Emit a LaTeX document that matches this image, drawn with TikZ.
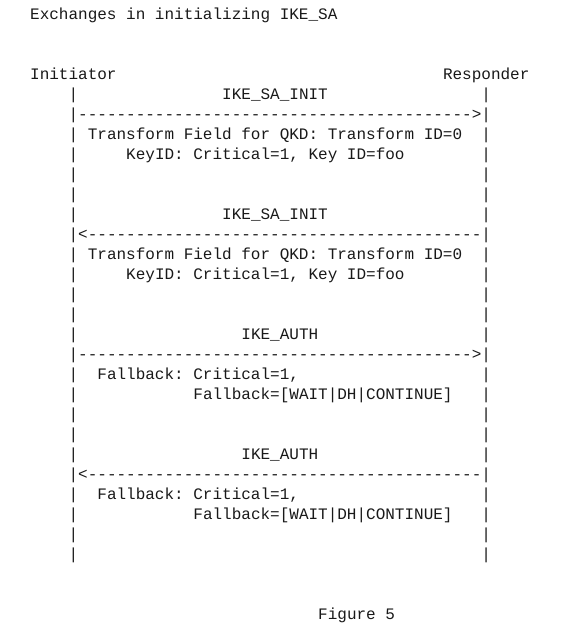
\documentclass[tikz,border=0pt]{standalone}
\usepackage{fontspec}
\newfontfamily\asciifont{Liberation Mono}
\frenchspacing

\begin{document}
\begin{tikzpicture}[x=9.6pt, y=-20pt,
  ascii/.style={font=\asciifont\fontsize{16}{20}\selectfont, anchor=base west, inner sep=0pt, text=black!90}]
  % one unit across is one character, one unit down is one line
  \useasboundingbox (-3.125, -0.975) rectangle (57.7083, 30.675);
  % Title
  \node [ascii] (title) at (0, 0) {Exchanges in initializing IKE\_SA};
  % Parties
  \node [ascii] (init) at (0, 3) {Initiator};
  \node [ascii] (resp) at (43, 3) {Responder};
  % Lifelines, one bar per line
  \foreach \r in {4,...,27} {
    \node [ascii] (il\r) at (4, \r) {|};
    \node [ascii] (rl\r) at (47, \r) {|};
  }
  % First IKE_SA_INIT, initiator to responder
  \node [ascii] (saname1) at (20, 4) {IKE\_SA\_INIT};
  \node [ascii] (saarrow1) at (5, 5) {----------------------------------------->};
  \node [ascii] (satf1) at (6, 6) {Transform Field for QKD: Transform ID=0};
  \node [ascii] (sakey1) at (10, 7) {KeyID: Critical=1, Key ID=foo};
  % Second IKE_SA_INIT, responder to initiator
  \node [ascii] (saname2) at (20, 10) {IKE\_SA\_INIT};
  \node [ascii] (saarrow2) at (5, 11) {<-----------------------------------------};
  \node [ascii] (satf2) at (6, 12) {Transform Field for QKD: Transform ID=0};
  \node [ascii] (sakey2) at (10, 13) {KeyID: Critical=1, Key ID=foo};
  % First IKE_AUTH, initiator to responder
  \node [ascii] (authname1) at (22, 16) {IKE\_AUTH};
  \node [ascii] (autharrow1) at (5, 17) {----------------------------------------->};
  \node [ascii] (authfb1) at (7, 18) {Fallback: Critical=1,};
  \node [ascii] (authval1) at (17, 19) {Fallback=[WAIT|DH|CONTINUE]};
  % Second IKE_AUTH, responder to initiator
  \node [ascii] (authname2) at (22, 22) {IKE\_AUTH};
  \node [ascii] (autharrow2) at (5, 23) {<-----------------------------------------};
  \node [ascii] (authfb2) at (7, 24) {Fallback: Critical=1,};
  \node [ascii] (authval2) at (17, 25) {Fallback=[WAIT|DH|CONTINUE]};
  % Caption
  \node [ascii] (caption) at (30, 30) {Figure 5};
\end{tikzpicture}
\end{document}
